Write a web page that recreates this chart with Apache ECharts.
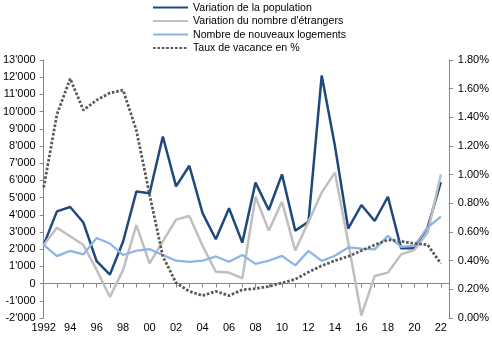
<!DOCTYPE html>
<html>
<head>
<meta charset="utf-8">
<script src="https://cdn.jsdelivr.net/npm/echarts@6/dist/echarts.min.js"></script>
<style>
html,body{margin:0;padding:0;background:#fff;}
#chart{width:492px;height:340px;}
</style>
</head>
<body>
<div id="chart"></div>
<script>
// ---- data ----
var years = [1992,1993,1994,1995,1996,1997,1998,1999,2000,2001,2002,2003,2004,2005,2006,2007,2008,2009,2010,2011,2012,2013,2014,2015,2016,2017,2018,2019,2020,2021,2022];
var population = [2250,4200,4450,3550,1300,520,2450,5350,5250,8550,5650,6850,4100,2580,4380,2380,5870,4280,6350,3080,3600,12100,8000,3200,4570,3640,5050,2050,2050,3250,5900];
var foreigners = [2240,3250,2750,2240,800,-780,800,3400,1180,2450,3720,3930,2200,690,640,300,5050,3080,4760,1920,3600,5300,6450,2400,-1850,440,640,1700,1950,2950,6350];
var dwellings = [2250,1600,1900,1700,2650,2330,1660,1910,2000,1660,1330,1270,1330,1580,1270,1660,1150,1330,1610,1060,1900,1320,1620,2100,2030,1990,2780,2130,2200,3270,3900];
var vacancy = [0.91,1.42,1.67,1.45,1.52,1.57,1.59,1.31,0.86,0.43,0.245,0.186,0.156,0.186,0.156,0.197,0.205,0.22,0.245,0.27,0.32,0.365,0.40,0.43,0.47,0.51,0.545,0.535,0.52,0.51,0.38];
var seriesNames = ['Variation de la population', "Variation du nombre d'étrangers", 'Nombre de nouveaux logements', 'Taux de vacance en %'];

function pairs(arr){ return years.map(function(y,i){ return [y, arr[i]]; }); }
function fmtThousands(v){
  var n = Math.abs(v), s;
  if (n >= 1000) { s = Math.floor(n/1000) + "'" + String(n % 1000).padStart(3,'0'); }
  else { s = String(n); }
  return (v < 0 ? '-' : '') + s;
}
function fmtYear(v){
  if (!Number.isInteger(v)) return '';
  if (v === 1992) return '1992';
  if (v % 2 !== 0) return '';
  return String(v).slice(2);
}

var FONT = 'Liberation Sans';
var AXIS_COLOR = '#868686';
var chart = echarts.init(document.getElementById('chart'), null, {renderer:'canvas'});
chart.setOption({
  animation: false,
  backgroundColor: '#ffffff',
  textStyle: {fontFamily: FONT},
  legend: {
    orient: 'vertical',
    left: 152, top: 2,
    itemWidth: 35, itemHeight: 14, itemGap: 2.3,
    padding: 0,
    itemStyle: {opacity: 0, borderWidth: 0},
    textStyle: {fontFamily: FONT, fontSize: 10.6, color: '#000'},
    data: seriesNames
  },
  grid: {left: 43, right: 43, top: 60, bottom: 22, containLabel: false},
  xAxis: [{
    type: 'value', min: 1992, max: 2022.6, interval: 1,
    position: 'bottom',
    axisLine: {show: false}, axisTick: {show: false}, splitLine: {show: false},
    axisLabel: {formatter: fmtYear, fontFamily: FONT, fontSize: 11, color: '#000', margin: 4, showMaxLabel: false}
  },{
    type: 'value', min: 1992, max: 2022.6, interval: 1,
    position: 'bottom',
    axisLine: {show: true, onZero: true, onZeroAxisIndex: 0, lineStyle: {color: AXIS_COLOR, width: 1}},
    axisTick: {show: true, length: 4, lineStyle: {color: AXIS_COLOR}},
    axisLabel: {show: false}, splitLine: {show: false}
  }],
  yAxis: [{
    type: 'value', min: -2000, max: 13000, interval: 1000, position: 'left',
    axisLine: {show: true, onZero: false, lineStyle: {color: AXIS_COLOR, width: 1}},
    axisTick: {show: true, length: 4, lineStyle: {color: AXIS_COLOR}},
    splitLine: {show: false},
    axisLabel: {formatter: fmtThousands, fontFamily: FONT, fontSize: 11, color: '#000', margin: 8}
  },{
    type: 'value', min: 0, max: 1.8, interval: 0.2, position: 'right',
    axisLine: {show: true, onZero: false, lineStyle: {color: AXIS_COLOR, width: 1}},
    axisTick: {show: true, length: 4, lineStyle: {color: AXIS_COLOR}},
    splitLine: {show: false},
    axisLabel: {formatter: function(v){ return v.toFixed(2) + '%'; }, fontFamily: FONT, fontSize: 11, color: '#000', margin: 9}
  }],
  series: [
    {name: seriesNames[0], type: 'line', xAxisIndex: 0, yAxisIndex: 0, data: pairs(population), symbol: 'none',
     lineStyle: {color: '#1F497D', width: 2.5}, itemStyle: {color: '#1F497D'}},
    {name: seriesNames[1], type: 'line', xAxisIndex: 0, yAxisIndex: 0, data: pairs(foreigners), symbol: 'none',
     lineStyle: {color: '#BFBFBF', width: 2.5}, itemStyle: {color: '#BFBFBF'}},
    {name: seriesNames[2], type: 'line', xAxisIndex: 0, yAxisIndex: 0, data: pairs(dwellings), symbol: 'none',
     lineStyle: {color: '#8DB4E2', width: 2.25}, itemStyle: {color: '#8DB4E2'}},
    {name: seriesNames[3], type: 'line', xAxisIndex: 0, yAxisIndex: 1, data: pairs(vacancy), symbol: 'none',
     lineStyle: {color: '#595959', width: 2.75, type: [2.6, 1.8], cap: 'butt'}, itemStyle: {color: '#595959'}}
  ]
});
</script>
</body>
</html>
